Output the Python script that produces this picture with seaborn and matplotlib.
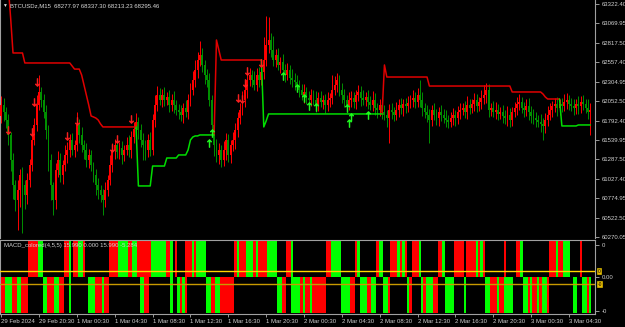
import numpy as np
import pandas as pd
import matplotlib
matplotlib.use('Agg')
import matplotlib.pyplot as plt
import seaborn as sns

# --- data (BTCUSDz, M15) ---
first_open = 61850
closes = [
    62000, 61908, 61803, 61607, 61279, 60952, 60755, 60886, 61083, 60952,
    60821, 61017, 61214, 61541, 61738, 62000, 62170,
    62065, 61908, 61672, 61279, 60952, 60755,
    61148, 61279, 61083, 61214, 61345, 61410,
    61541, 61410, 61476,
    61738, 61607,
    61476, 61410, 61279, 61345, 61214,
    61083, 60952, 60886, 60821, 60755, 60886, 61017,
    61214, 61410, 61476, 61384, 61436,
    61345, 61410, 61476, 61410,
    61580, 61690, 61777,
    61672, 61541, 61476, 61410, 61541, 61410,
    61803, 62000,
    62131, 62065, 62131, 62065, 62104, 62000, 62065,
    62000, 61934, 61908, 61869, 61960, 61908,
    62065, 62196, 62327, 62458, 62589, 62654, 62524, 62393,
    62327, 62065, 61738, 61476, 61345, 61410,
    61279, 61410, 61541, 61345, 61476,
    61541, 61672, 61829, 61934, 62065, 62196, 62327, 62393,
    62327, 62262, 62393, 62327, 62432,
    62589, 62785, 62851,
    62720, 62589, 62654, 62524, 62563, 62458,
    62393, 62458, 62353, 62327, 62301, 62262,
    62196, 62131, 62170, 62091, 62065, 62131,
    62065, 62000, 62091, 62039, 62065, 62000, 62065, 62091,
    62196, 62262, 62327, 62196,
    62131, 62065, 62000, 62065, 62091, 62039,
    62131, 62170, 62091, 62065, 62104,
    62039, 62000, 62065, 61960, 61934, 62000, 61908,
    61869, 61829, 61934, 61908, 61869, 61934,
    62000, 61960, 62013, 61987, 62026, 62065, 62091, 62039,
    62131, 62065, 61960,
    61908, 61869, 61803, 61934, 61869, 61829,
    61908, 61869, 61829, 61803, 61777, 61829,
    61869, 61829, 61908, 61934, 61960, 61908, 62000,
    61960, 62013, 62065, 61987, 62039, 62091,
    62131, 62196, 61934,
    61960, 61908, 61934, 61882, 61908, 61856, 61829,
    61869, 61803, 61908, 61960, 62013,
    62039, 61960, 61934, 61987,
    61908, 61856, 61829, 61803, 61777,
    61751, 61725, 61803, 61869,
    61934, 61987, 62013, 61960, 62013, 61987,
    62039, 62065, 62013, 61987, 61960, 62013,
    61987, 62039, 62013, 61960, 61908, 61934,
]
up_wick = [
    120, 90, 60, 75, 45, 90, 60, 135, 75, 105, 60, 90, 75, 120, 90, 135, 225, 60, 75, 90, 60, 75, 45, 90, 120,
    90, 60, 135, 105, 75, 90, 60, 165, 75, 105, 60, 90, 75, 60, 45, 75, 90, 60, 75, 105, 60, 135, 90, 75, 120,
    75, 90, 60, 105, 135, 75, 90, 120, 60, 75, 90, 60, 75, 105, 75, 135, 120, 90, 75, 105, 60, 90, 75, 120, 60,
    75, 90, 60, 105, 75, 90, 120, 135, 105, 180, 90, 60, 75, 90, 60, 105, 75, 90, 60, 120, 90, 75, 60, 105, 90,
    75, 90, 120, 105, 75, 90, 60, 120, 90, 105, 135, 300, 375, 300, 90, 180, 75, 90, 60, 105, 75, 90, 60, 120, 90,
    90, 60, 75, 105, 60, 90, 75, 60, 120, 75, 90, 60, 75, 105, 60, 195, 120, 90, 60, 90, 75, 60, 105, 90, 75,
    60, 90, 75, 105, 60, 90, 75, 120, 90, 60, 75, 105, 90, 60, 75, 90, 60, 105, 75, 90, 60, 75, 90, 60, 105,
    75, 90, 195, 105, 60, 90, 75, 60, 90, 75, 60, 90, 75, 105, 60, 75, 90, 60, 75, 90, 60, 90, 120, 75, 60,
    90, 75, 60, 105, 135, 90, 75, 60, 90, 105, 75, 60, 90, 75, 120, 90, 60, 75, 90, 105, 60, 75, 90, 105, 75,
    90, 75, 60, 105, 75, 90, 120, 90, 60, 75, 90, 60, 75, 105, 90, 60, 75, 90, 60, 105, 75, 90, 60, 120, 90,
]
dn_wick = [
    90, 120, 105, 135, 150, 180, 150, 390, 225, 630, 180, 120, 90, 75, 60, 75, 60, 90, 75, 120, 150, 195, 195, 120, 90,
    90, 120, 75, 105, 90, 60, 90, 75, 105, 90, 120, 90, 105, 75, 90, 135, 120, 90, 195, 90, 75, 60, 90, 120, 75,
    90, 120, 75, 60, 90, 105, 75, 90, 120, 90, 195, 135, 90, 75, 60, 90, 75, 60, 90, 75, 60, 90, 75, 105, 60,
    90, 75, 105, 60, 90, 75, 60, 90, 105, 75, 90, 120, 90, 75, 105, 150, 90, 120, 90, 75, 135, 90, 105, 75, 120,
    90, 75, 60, 90, 105, 75, 90, 60, 75, 90, 60, 90, 75, 105, 90, 75, 90, 60, 105, 75, 90, 60, 75, 90, 105,
    75, 90, 60, 105, 75, 90, 75, 60, 90, 75, 60, 90, 105, 75, 90, 75, 60, 90, 75, 105, 90, 75, 60, 90, 75,
    90, 75, 105, 60, 75, 90, 60, 75, 90, 105, 75, 90, 60, 120, 330, 90, 75, 60, 90, 75, 105, 90, 75, 60, 90,
    75, 60, 90, 105, 75, 90, 300, 75, 60, 90, 105, 75, 60, 90, 75, 60, 90, 105, 75, 90, 60, 75, 90, 75, 60,
    90, 75, 60, 90, 75, 105, 90, 75, 60, 90, 75, 60, 90, 75, 105, 90, 75, 60, 90, 75, 60, 90, 75, 105, 90,
    75, 90, 60, 105, 180, 90, 75, 60, 90, 75, 105, 90, 75, 60, 90, 75, 60, 90, 75, 105, 90, 75, 60, 90, 300,
]

# trailing stop line: (price, number of bars), and side runs (R = above price, G = below)
trail_steps = [
    (np.nan, 3), (63550, 1), (63139, 1), (62681, 5), (62550, 20), (62510, 1), (62470, 3),
    (62393, 1), (62262, 1), (62131, 1), (62000, 1), (61856, 1), (61843, 1), (61829, 1),
    (61803, 1), (61751, 1), (61712, 15),
    (60939, 6), (61200, 6), (61305, 5), (61345, 4), (61410, 1), (61541, 1), (61580, 1),
    (61594, 2), (61607, 7),
    (62851, 1), (62720, 1), (62589, 18),
    (61712, 1), (61790, 1), (61882, 49),
    (62524, 1), (62366, 18), (62248, 35), (62170, 13), (62144, 1), (62104, 1), (62078, 6),
    (61725, 7), (61738, 6),
]
trail_sides = [('R', 58), ('G', 33), ('R', 20), ('G', 51), ('R', 75), ('G', 13)]

sell_bar = [3, 13, 14, 15, 28, 32, 47, 49, 55, 100, 102, 103, 104, 110]
sell_price = [61672, 61646, 62039, 62301, 61594, 61790, 61436, 61554, 61816,
              62091, 62078, 62288, 62445, 62550]
buy_bar = [88, 89, 119, 125, 128, 130, 133, 146, 147, 148, 155]
buy_price = [61502, 61633, 62379, 62222, 62091, 61987, 61973, 61960, 61764, 61843, 61869]

price_ticks = [63322.40, 63069.95, 62817.50, 62557.40, 62304.95, 62052.50, 61792.40,
               61539.95, 61287.50, 61027.40, 60774.95, 60522.50, 60270.05]
time_labels = ['29 Feb 2024', '29 Feb 20:30', '1 Mar 00:30', '1 Mar 04:30', '1 Mar 08:30',
               '1 Mar 12:30', '1 Mar 16:30', '1 Mar 20:30', '2 Mar 00:30', '2 Mar 04:30',
               '2 Mar 08:30', '2 Mar 12:30', '2 Mar 16:30', '2 Mar 20:30', '3 Mar 00:30',
               '3 Mar 04:30']

# MACD_colored sub window, two rows of colour codes (R red, G green, K none)
macd_top = ("K12 R4 G2 K9 R2 G1 K1 R2 G2 R1 K10 R4 G4 R2 G2 R6 G6 R2 G1 K1 R1 K3 R3 G1 R1 G4 "
            "K12 R1 G1 R3 G3 R1 G1 R4 G4 K4 R2 G1 K14 R2 G4 K6 R1 G1 K7 R1 G2 K3 R3 G1 R1 G1 "
            "R1 K2 R3 G1 K7 R2 G1 K4 R4 K1 R4 G1 R1 G1 R1 K8 R1 K4 R2 G1 K11 R3 G1 R2 G3 K4 R1 K4")
macd_bot = ("R2 G3 R2 G2 R3 K6 G2 R3 G2 R2 K2 G1 K7 G3 R3 G1 R2 K13 G2 R2 K9 G1 K2 G1 R1 G1 R1 "
            "K8 G2 R2 G2 R6 K18 G2 R2 K2 G3 G1 R1 G1 R2 G1 R6 K6 G4 R2 K2 G3 R2 G2 K3 G2 R1 K7 "
            "G1 R1 K4 G1 R1 G3 R2 K3 G4 K4 G1 K8 G2 R3 G1 R2 G4 K4 G2 R1 G1 R2 G1 R1 G2 R1 K10 "
            "G2 K2 G2 R1 G1")


def expand(runs):
    out = []
    for tok in runs.split():
        out += [tok[0]] * int(tok[1:])
    return out


sns.set_theme(style='dark', rc={'axes.facecolor': 'black', 'figure.facecolor': 'black'})
plt.rcParams['font.family'] = ['Liberation Sans', 'DejaVu Sans']

n = len(closes)
x = np.arange(n)
c = np.array(closes, dtype=float)
o = np.concatenate([[first_open], c[:-1]])
hi = np.maximum(o, c) + np.array(up_wick)
lo = np.minimum(o, c) - np.array(dn_wick)
cols = np.where(c >= o, '#ff0000', '#009000')

fig = plt.figure(figsize=(6.25, 3.27), dpi=100, facecolor='black')
ax = fig.add_axes([0, 1 - 238 / 327, 595 / 625, 238 / 327])
ax2 = fig.add_axes([0, 1 - 314 / 327, 595 / 625, 74 / 327])

# candles
ax.vlines(x, lo, hi, colors=cols, linewidth=0.7, zorder=2)
ax.bar(x, np.maximum(np.abs(c - o), 12), bottom=np.minimum(o, c), width=0.8,
       color=cols, linewidth=0, zorder=3)

# trailing line, one segment per side run
trail = []
for v, k in trail_steps:
    trail += [v] * k
sides = []
for s, k in trail_sides:
    sides += [s] * k
rows = []
seg = 0
for i in range(n):
    if np.isnan(trail[i]):
        continue
    if i > 0 and sides[i] != sides[i - 1]:
        seg += 1
        rows.append((i - 1, trail[i - 1], sides[i], seg))
    rows.append((i, trail[i], sides[i], seg))
df_trail = pd.DataFrame(rows, columns=['bar', 'price', 'side', 'seg'])
sns.lineplot(data=df_trail, x='bar', y='price', hue='side', units='seg', estimator=None,
             sort=False, palette={'R': '#e00000', 'G': '#00dd00'}, linewidth=1.1,
             legend=False, ax=ax, zorder=4)

# signal arrows
sns.scatterplot(x=sell_bar, y=sell_price, marker='$\\downarrow$', color='#ff2020',
                edgecolor='#ff2020', s=32, linewidth=0.4, ax=ax, zorder=5)
sns.scatterplot(x=buy_bar, y=buy_price, marker='$\\uparrow$', color='#20ff20',
                edgecolor='#20ff20', s=32, linewidth=0.4, ax=ax, zorder=5)

ax.set_xlim(-0.5, 251)
ax.set_ylim(60257, 63375)
ax.set_xlabel('')
ax.set_ylabel('')
ax.set_xticks([])
ax.yaxis.tick_right()
ax.set_yticks(price_ticks)
ax.set_yticklabels([f'{t:.2f}' for t in price_ticks])
ax.tick_params(axis='y', length=3, width=0.6, color='#b0b0b0', labelcolor='#d0d0d0',
               labelsize=4.3, pad=1.5, right=True, left=False)
for side in ['top', 'bottom']:
    ax.spines[side].set_visible(False)
for side in ['left', 'right']:
    ax.spines[side].set_visible(True)
    ax.spines[side].set_color('#a0a0a0')
    ax.spines[side].set_linewidth(0.8)

# MACD_colored rows
top = expand(macd_top)
bot = expand(macd_bot)
cmap = {'R': '#ff0000', 'G': '#00ff00'}
for row, base in [(top, 0.0), (bot, -0.97)]:
    idx = [i for i, s in enumerate(row) if s != 'K']
    ax2.bar(idx, 0.97, bottom=base, width=1.0, linewidth=0,
            color=[cmap[row[i]] for i in idx], zorder=2)
ax2.axhline(0.162, color='#ffd400', lw=1.0, zorder=3)
ax2.axhline(-0.19, color='#c89a00', lw=1.0, zorder=3)
ax2.set_xlim(-0.5, 251)
ax2.set_ylim(-1, 1)
ax2.yaxis.tick_right()
ax2.set_yticks([0.865, 0.0, -0.92])
ax2.set_yticklabels(['0', '0.00', '-0'])
ax2.tick_params(axis='y', length=3, width=0.6, color='#b0b0b0', labelcolor='#d0d0d0',
                labelsize=4.3, pad=1.5, right=True, left=False)
ax2.set_xticks(np.arange(0, 241, 16))
ax2.set_xticklabels(time_labels)
ax2.tick_params(axis='x', length=2.5, width=0.6, color='#b0b0b0', labelcolor='#d0d0d0',
                labelsize=4.3, pad=1, bottom=True)
for lab in ax2.get_xticklabels():
    lab.set_horizontalalignment('left')
for side in ax2.spines:
    ax2.spines[side].set_visible(True)
    ax2.spines[side].set_color('#a0a0a0')
    ax2.spines[side].set_linewidth(0.8)

ybt = ax2.get_yaxis_transform()
for yv, txt in [(0.162, '0'), (-0.19, '-0')]:
    ax2.text(1.004, yv, txt, transform=ybt, fontsize=3.5, color='black', va='center',
             ha='left', bbox=dict(boxstyle='square,pad=0.15', fc='#e8b800', ec='#f0d000', lw=0.4),
             clip_on=False, zorder=6)

fig.text(2 / 625, 1 - 5.5 / 327, '\u25bc', fontsize=3.5, color='#e0e0e0', va='center')
fig.text(10 / 625, 1 - 5.5 / 327, 'BTCUSDz,M15  68277.97 68337.30 68213.23 68295.46',
         fontsize=4.3, color='#d8d8d8', va='center')
fig.text(4 / 625, 1 - 245 / 327, 'MACD_colored(4,5,5) 15.990 0.000 15.990 -5.284',
         fontsize=4.3, color='#d0d0d0', va='center')

fig.savefig('out.png', dpi=100, facecolor='black')
